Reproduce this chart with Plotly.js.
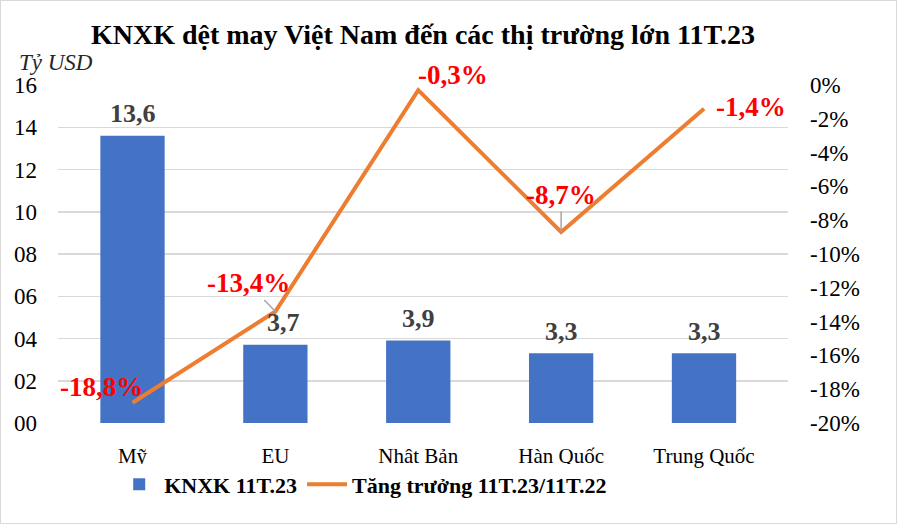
<!DOCTYPE html>
<html><head><meta charset="utf-8">
<script src="https://cdn.plot.ly/plotly-3.0.1.min.js"></script>
<style>
html,body{margin:0;padding:0;background:#fff;}
#frame{width:897px;height:524px;box-sizing:border-box;border:1px solid #d9d9d9;}
#chart{width:895px;height:522px;}
</style></head>
<body><div id="frame"><div id="chart"></div></div>
<script>
const categories = ["Mỹ", "EU", "Nhật Bản", "Hàn Quốc", "Trung Quốc"];
const exportValues = [13.6, 3.7, 3.9, 3.3, 3.3];
const growthValues = [-18.8, -13.4, -0.3, -8.7, -1.4];
const leftTickVals = [0, 2, 4, 6, 8, 10, 12, 14, 16];
const leftTickText = ["00", "02", "04", "06", "08", "10", "12", "14", "16"];
const rightTickVals = [0, -2, -4, -6, -8, -10, -12, -14, -16, -18, -20];
const rightTickText = ["0%", "-2%", "-4%", "-6%", "-8%", "-10%", "-12%", "-14%", "-16%", "-18%", "-20%"];

const FONT = "Liberation Serif";
const fmt = v => v.toFixed(1).replace(".", ",");

const barLabelShift = [0, 8, 0, 0, 0];
const annotations = [];
categories.forEach((c, i) => {
  annotations.push({x: c, y: exportValues[i], xref: "x", yref: "y", text: "<b>" + fmt(exportValues[i]) + "</b>",
    showarrow: false, yanchor: "middle", yshift: 22, xshift: barLabelShift[i],
    font: {family: FONT, size: 26, color: "#404040"}});
});
const lineLabelPos = [
  {ax: -31, ay: -16, arrow: false},
  {ax: -27, ay: -28, arrow: true},
  {ax: 35, ay: -15, arrow: false},
  {ax: 0, ay: -37, arrow: true},
  {ax: 47, ay: -2, arrow: false}
];
categories.forEach((c, i) => {
  const p = lineLabelPos[i];
  annotations.push({x: c, y: growthValues[i], xref: "x", yref: "y2", text: "<b>" + fmt(growthValues[i]) + "%</b>",
    showarrow: true, arrowhead: 0, arrowwidth: 1.5, arrowcolor: p.arrow ? "#a6a6a6" : "rgba(0,0,0,0)",
    ax: p.ax, ay: p.ay, standoff: 0,
    font: {family: FONT, size: 27, color: "#ff0000"}});
});
annotations.push({xref: "paper", yref: "paper", x: -0.056, y: 1.068, xanchor: "left", yanchor: "middle",
  text: "<i>Tỷ USD</i>", showarrow: false, font: {family: FONT, size: 23, color: "#262626"}});

const data = [
  {type: "bar", name: "<b>KNXK 11T.23</b>", x: categories, y: exportValues, marker: {color: "#4472c4"}, yaxis: "y", hoverinfo: "none"},
  {type: "scatter", mode: "lines", name: "<b>Tăng trưởng 11T.23/11T.22</b>", x: categories, y: growthValues, yaxis: "y2",
   line: {color: "#ed7d31", width: 4}, hoverinfo: "none"}
];

const layout = {
  width: 895, height: 522,
  margin: {l: 57, r: 108, t: 84, b: 100},
  paper_bgcolor: "#fff", plot_bgcolor: "#fff",
  font: {family: FONT, color: "#000"},
  title: {text: "<b>KNXK dệt may Việt Nam đến các thị trường lớn 11T.23</b>", x: 0.5, xref: "paper", y: 0.937, yanchor: "middle",
    font: {family: FONT, size: 28, color: "#000"}},
  bargap: 0.55,
  showlegend: true,
  legend: {orientation: "h", x: 0.077, xanchor: "left", y: -0.12, yanchor: "top",
    font: {family: FONT, size: 22, color: "#000"}, itemwidth: 40, tracegroupgap: 0},
  xaxis: {type: "category", showgrid: false, zeroline: false, showline: false,
    tickfont: {family: FONT, size: 21, color: "#000"}, ticks: "", ticklabelstandoff: 18},
  yaxis: {range: [0, 16], tickvals: leftTickVals, ticktext: leftTickText, showgrid: true, gridcolor: "#d9d9d9", gridwidth: 1.5,
    zeroline: false, showline: false, tickfont: {family: FONT, size: 23, color: "#000"}, ticklabelstandoff: 20, fixedrange: true},
  yaxis2: {overlaying: "y", side: "right", range: [-20, 0], tickvals: rightTickVals, ticktext: rightTickText,
    showgrid: false, zeroline: false, showline: false, tickfont: {family: FONT, size: 23, color: "#000"}, ticklabelstandoff: 21},
  annotations: annotations
};

Plotly.newPlot("chart", data, layout, {displayModeBar: false, staticPlot: true});
</script></body></html>
